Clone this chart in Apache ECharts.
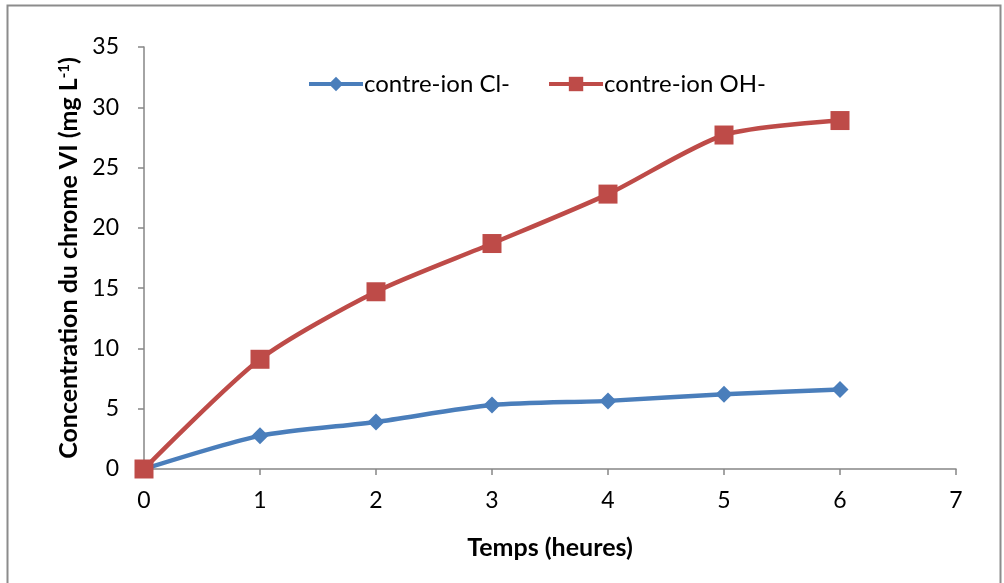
<!DOCTYPE html>
<html><head><meta charset="utf-8">
<script src="https://cdn.jsdelivr.net/npm/echarts@6/dist/echarts.min.js"></script>
<style>html,body{margin:0;padding:0;background:#fff}#c{width:1004px;height:583px}</style>
</head><body><div id="c"></div>
<script>
const hours = [0, 1, 2, 3, 4, 5, 6];
const clValues = [0, 2.75, 3.9, 5.3, 5.65, 6.2, 6.6];
const ohValues = [0, 9.1, 14.7, 18.7, 22.8, 27.7, 28.9];
const seriesNames = ['contre-ion Cl-', 'contre-ion OH-'];
const yTitle = 'Concentration du chrome VI (mg L';
const xTitle = 'Temps (heures)';

const font = 'Lato, "Open Sans", sans-serif';
const chart = echarts.init(document.getElementById('c'));
const pairs = v => hours.map((h, i) => [h, v[i]]);
chart.setOption({
  animation: false,
  graphic: [{
    type: 'rect', shape: {x: 7.5, y: 5.5, width: 993, height: 600},
    style: {fill: 'none', stroke: '#8c8c8c', lineWidth: 2}, silent: true
  }],
  grid: {left: 144, right: 48, top: 47, bottom: 114},
  legend: {
    top: 67, left: 302, itemGap: 37, itemWidth: 54, itemHeight: 18,
    lineStyle: {width: 4},
    textStyle: {fontFamily: font, fontSize: 24, color: '#000', padding: [0,0,0,-4]},
    data: seriesNames
  },
  xAxis: {
    type: 'value', min: 0, max: 7, interval: 1,
    name: xTitle, nameLocation: 'middle', nameGap: 66,
    nameTextStyle: {fontFamily: font, fontSize: 25, fontWeight: 'bold', color: '#000'},
    axisLine: {lineStyle: {color: '#868686', width: 1.5}},
    axisTick: {show: true, length: 6, lineStyle: {color: '#868686', width: 1.5}},
    axisLabel: {fontFamily: font, fontSize: 23, color: '#000', margin: 20},
    splitLine: {show: false}
  },
  yAxis: {
    type: 'value', min: 0, max: 35, interval: 5,
    name: '{a|' + yTitle + '}{s|-1}{a|)}', nameLocation: 'middle', nameGap: 62, nameRotate: 90,
    nameTextStyle: {
      rich: {
        a: {fontFamily: font, fontSize: 25, fontWeight: 'bold', color: '#000'},
        s: {fontFamily: font, fontSize: 15, fontWeight: 'bold', color: '#000', verticalAlign: 'top', padding: [0,0,10,0]}
      }
    },
    axisLine: {show: true, lineStyle: {color: '#868686', width: 1.5}},
    axisTick: {show: true, length: 6, lineStyle: {color: '#868686', width: 1.5}},
    axisLabel: {fontFamily: font, fontSize: 23, color: '#000', margin: 25},
    splitLine: {show: false}
  },
  series: [
    {
      name: seriesNames[0], type: 'line', data: pairs(clValues), smooth: 0.25,
      symbol: 'diamond', symbolSize: 17,
      lineStyle: {color: '#4a7ebb', width: 4.5},
      itemStyle: {color: '#4a7ebb'}, z: 3
    },
    {
      name: seriesNames[1], type: 'line', data: pairs(ohValues), smooth: 0.25,
      symbol: 'rect', symbolSize: 19,
      lineStyle: {color: '#be4b48', width: 4.5},
      itemStyle: {color: '#be4b48'}, z: 4
    }
  ]
});
</script></body></html>
